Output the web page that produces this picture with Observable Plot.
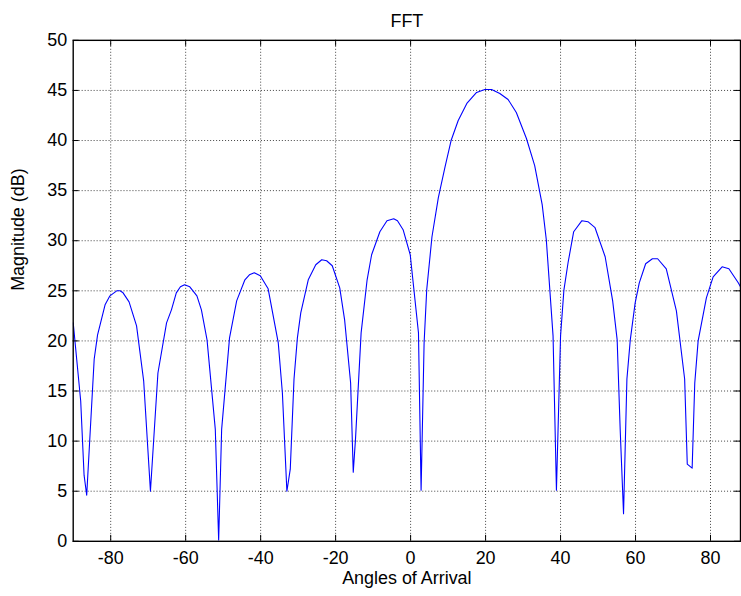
<!DOCTYPE html>
<html>
<head>
<meta charset="utf-8">
<script src="https://cdn.jsdelivr.net/npm/d3@7"></script>
<script src="https://cdn.jsdelivr.net/npm/@observablehq/plot@0.6"></script>
<style>
  html, body { margin: 0; padding: 0; background: #fff; }
  #chart { width: 741px; height: 596px; overflow: hidden; }
</style>
</head>
<body>
<div id="chart"></div>
<script>
const angles = [-90, -88, -87.1, -86.4, -84.4, -83.5, -81.5, -80.2, -78.4, -77.5, -76.7, -75.1, -73.1, -71.2, -69.4, -67.4, -65.1, -63.8, -62.5, -61.4, -60.3, -58.9, -57.0, -55.8, -54.3, -52.1, -51.2, -50.4, -48.3, -46.4, -44.2, -43.0, -41.7, -40.1, -38.0, -35.3, -34.2, -33.0, -32.1, -31.1, -30.2, -29.3, -27.3, -25.3, -23.7, -22.4, -20.9, -18.9, -17.6, -16.0, -15.3, -14.7, -13.2, -11.6, -10.4, -8.2, -6.3, -4.5, -3.5, -2.0, -0.1, 2.1, 2.8, 3.6, 4.3, 5.7, 7.4, 9.2, 10.8, 12.7, 15.0, 17.6, 19.8, 21.6, 23.8, 26.0, 28.2, 30.9, 33.1, 35.1, 36.2, 38.0, 38.9, 40.0, 40.9, 42.0, 43.5, 45.7, 47.3, 49.2, 51.9, 53.9, 55.1, 55.9, 56.8, 57.7, 58.6, 59.9, 61.0, 62.7, 64.5, 65.9, 68.2, 70.9, 73.1, 73.8, 75.1, 75.8, 76.7, 78.9, 80.7, 83.1, 84.9, 87.4, 88.6];
const magnitudes = [21.8, 14.0, 6.6, 4.6, 18.2, 20.6, 23.6, 24.5, 25.0, 25.0, 24.8, 23.9, 21.5, 16.0, 5.0, 16.8, 21.8, 23.1, 24.8, 25.4, 25.6, 25.4, 24.5, 23.1, 20.1, 11.2, 0.1, 11.2, 20.3, 24.0, 26.1, 26.6, 26.8, 26.5, 25.2, 19.8, 14.8, 5.0, 7.2, 16.2, 20.3, 22.8, 26.1, 27.6, 28.1, 28.0, 27.5, 25.3, 22.1, 15.8, 6.9, 10.2, 20.8, 26.1, 28.6, 30.9, 32.0, 32.2, 32.0, 31.1, 28.6, 20.8, 5.1, 19.8, 25.1, 30.4, 34.3, 37.4, 40.0, 42.0, 43.7, 44.8, 45.1, 45.1, 44.7, 44.1, 42.8, 40.2, 37.5, 33.6, 30.1, 20.5, 5.1, 20.5, 25.1, 27.8, 30.9, 32.0, 31.9, 31.3, 28.4, 24.0, 20.1, 11.2, 2.75, 16.2, 20.1, 23.8, 25.8, 27.7, 28.2, 28.2, 27.2, 23.0, 16.2, 7.7, 7.3, 15.8, 20.0, 24.3, 26.4, 27.4, 27.2, 25.8, 25.0];
const xTicks = [-80, -60, -40, -20, 0, 20, 40, 60, 80];
const yTicks = [0, 5, 10, 15, 20, 25, 30, 35, 40, 45, 50];
const titleText = "FFT";
const xLabel = "Angles of Arrival";
const yLabel = "Magnitude (dB)";

const data = angles.map((a, i) => ({angle: a, mag: magnitudes[i]}));

const W = 744, H = 596, mL = 73, mR = 1, mT = 40, mB = 53;
const innerW = W - mL - mR, innerH = H - mT - mB;
const tick = 6;
const gridStyle = {stroke: "#000", strokeOpacity: 0.75, strokeDasharray: "1,2", strokeWidth: 1};

const chart = Plot.plot({
  width: W,
  height: H,
  marginLeft: mL,
  marginRight: mR,
  marginTop: mT,
  marginBottom: mB,
  style: {fontFamily: "'Liberation Sans', Arial, sans-serif", fontSize: "18px", color: "#000", background: "#fff"},
  x: {domain: [-90, 88]},
  y: {domain: [0, 50]},
  marks: [
    Plot.gridX(xTicks, gridStyle),
    Plot.gridY(yTicks.slice(1, -1), gridStyle),
    Plot.line(data, {x: "angle", y: "mag", stroke: "#0000ff", strokeWidth: 1.1, clip: true}),
    Plot.tickX(xTicks, {x: d => d, insetTop: innerH - tick, stroke: "#000"}),
    Plot.tickX(xTicks, {x: d => d, insetBottom: innerH - tick, stroke: "#000"}),
    Plot.tickY(yTicks, {y: d => d, insetRight: innerW - tick, stroke: "#000"}),
    Plot.tickY(yTicks, {y: d => d, insetLeft: innerW - tick, stroke: "#000"}),
    Plot.frame({stroke: "#000", strokeWidth: 1.4}),
    Plot.axisX(xTicks, {tickSize: 0, tickPadding: 10, tickFormat: d => String(d), label: null}),
    Plot.axisY(yTicks, {tickSize: 0, tickPadding: 6, tickFormat: d => String(d), label: null}),
    Plot.text([titleText], {frameAnchor: "top", dy: -26, fill: "#000"}),
    Plot.text([xLabel], {frameAnchor: "bottom", dy: 43, fill: "#000"}),
    Plot.text([yLabel], {frameAnchor: "left", dx: -55, rotate: -90, fill: "#000"})
  ]
});
document.getElementById("chart").appendChild(chart);
</script>
</body>
</html>
